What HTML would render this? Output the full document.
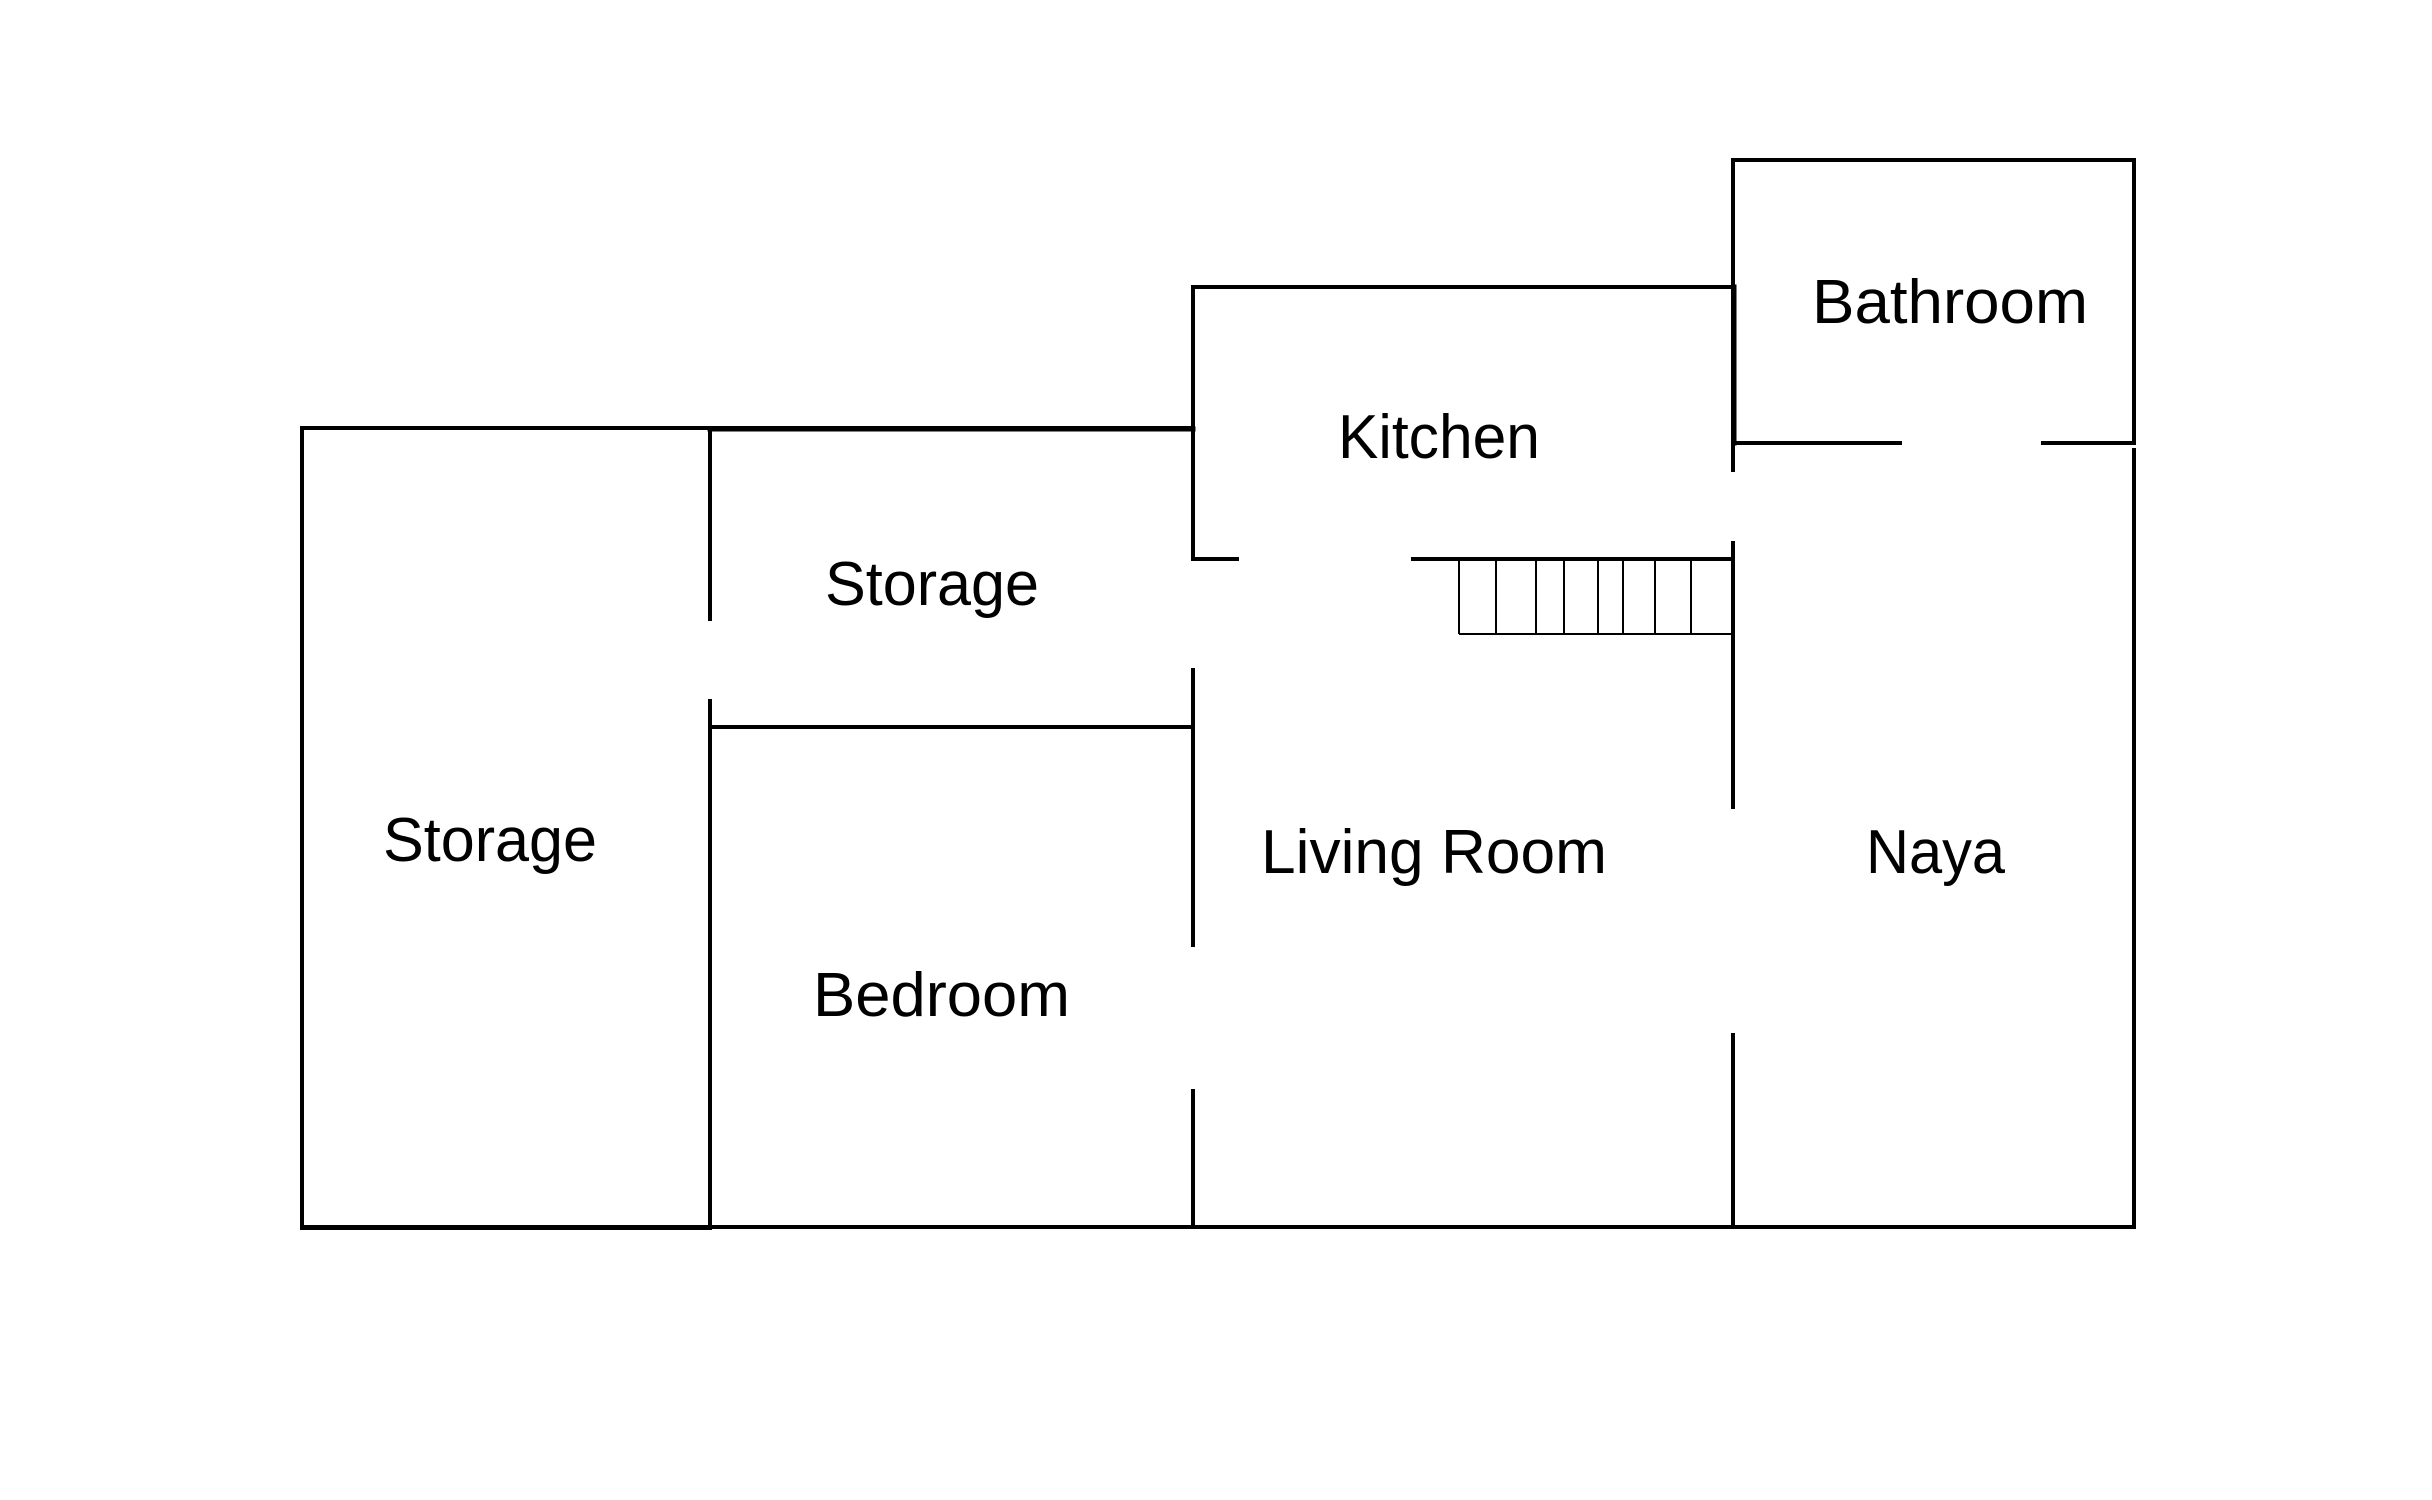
<!DOCTYPE html>
<html><head><style>html,body{margin:0;padding:0;background:#fff}svg{display:block}</style></head>
<body>
<svg width="2432" height="1500" viewBox="0 0 2432 1500" xmlns="http://www.w3.org/2000/svg">
<g stroke="#000" stroke-width="4" fill="none" stroke-linecap="square">
<line x1="302" y1="428" x2="1193" y2="428"/>
<line x1="710" y1="429" x2="1193" y2="429" stroke-width="5"/>
<line x1="302" y1="428" x2="302" y2="1227"/>
<line x1="302" y1="1227" x2="2134" y2="1227"/>
<line x1="302" y1="1228" x2="710" y2="1228"/>
<line x1="710" y1="428" x2="710" y2="619"/>
<line x1="710" y1="701" x2="710" y2="1227"/>
<line x1="710" y1="727" x2="1193" y2="727"/>
<line x1="1193" y1="287" x2="1733" y2="287"/>
<line x1="1193" y1="287" x2="1193" y2="559"/>
<line x1="1193" y1="559" x2="1237" y2="559"/>
<line x1="1193" y1="670" x2="1193" y2="945"/>
<line x1="1193" y1="1091" x2="1193" y2="1227"/>
<line x1="1413" y1="559" x2="1733" y2="559"/>
<line x1="1733" y1="160" x2="1733" y2="470"/>
<line x1="1734" y1="287" x2="1734" y2="443" stroke-width="5"/>
<line x1="1733" y1="543" x2="1733" y2="807"/>
<line x1="1733" y1="1035" x2="1733" y2="1227"/>
<line x1="1733" y1="160" x2="2134" y2="160"/>
<line x1="2134" y1="160" x2="2134" y2="443"/>
<line x1="2134" y1="450" x2="2134" y2="1227"/>
<line x1="1733" y1="443" x2="1900" y2="443"/>
<line x1="2043" y1="443" x2="2134" y2="443"/>
</g>
<g stroke="#000" stroke-width="2" fill="none">
<line x1="1459" y1="634" x2="1733" y2="634"/>
<line x1="1459" y1="559" x2="1459" y2="634"/>
<line x1="1496" y1="559" x2="1496" y2="634"/>
<line x1="1536" y1="559" x2="1536" y2="634"/>
<line x1="1564" y1="559" x2="1564" y2="634"/>
<line x1="1598" y1="559" x2="1598" y2="634"/>
<line x1="1623" y1="559" x2="1623" y2="634"/>
<line x1="1655" y1="559" x2="1655" y2="634"/>
<line x1="1691" y1="559" x2="1691" y2="634"/>
</g>
<g font-family="Liberation Sans, sans-serif" font-size="62" fill="#000">
<text x="1812" y="323" textLength="276" lengthAdjust="spacingAndGlyphs">Bathroom</text>
<text x="1338" y="458" textLength="202" lengthAdjust="spacingAndGlyphs">Kitchen</text>
<text x="825" y="605" textLength="214" lengthAdjust="spacingAndGlyphs">Storage</text>
<text x="383" y="861" textLength="214" lengthAdjust="spacingAndGlyphs">Storage</text>
<text x="1261" y="873" textLength="346" lengthAdjust="spacingAndGlyphs">Living Room</text>
<text x="1866" y="873" textLength="139" lengthAdjust="spacingAndGlyphs">Naya</text>
<text x="813" y="1016" textLength="257" lengthAdjust="spacingAndGlyphs">Bedroom</text>
</g>
</svg>
</body></html>
